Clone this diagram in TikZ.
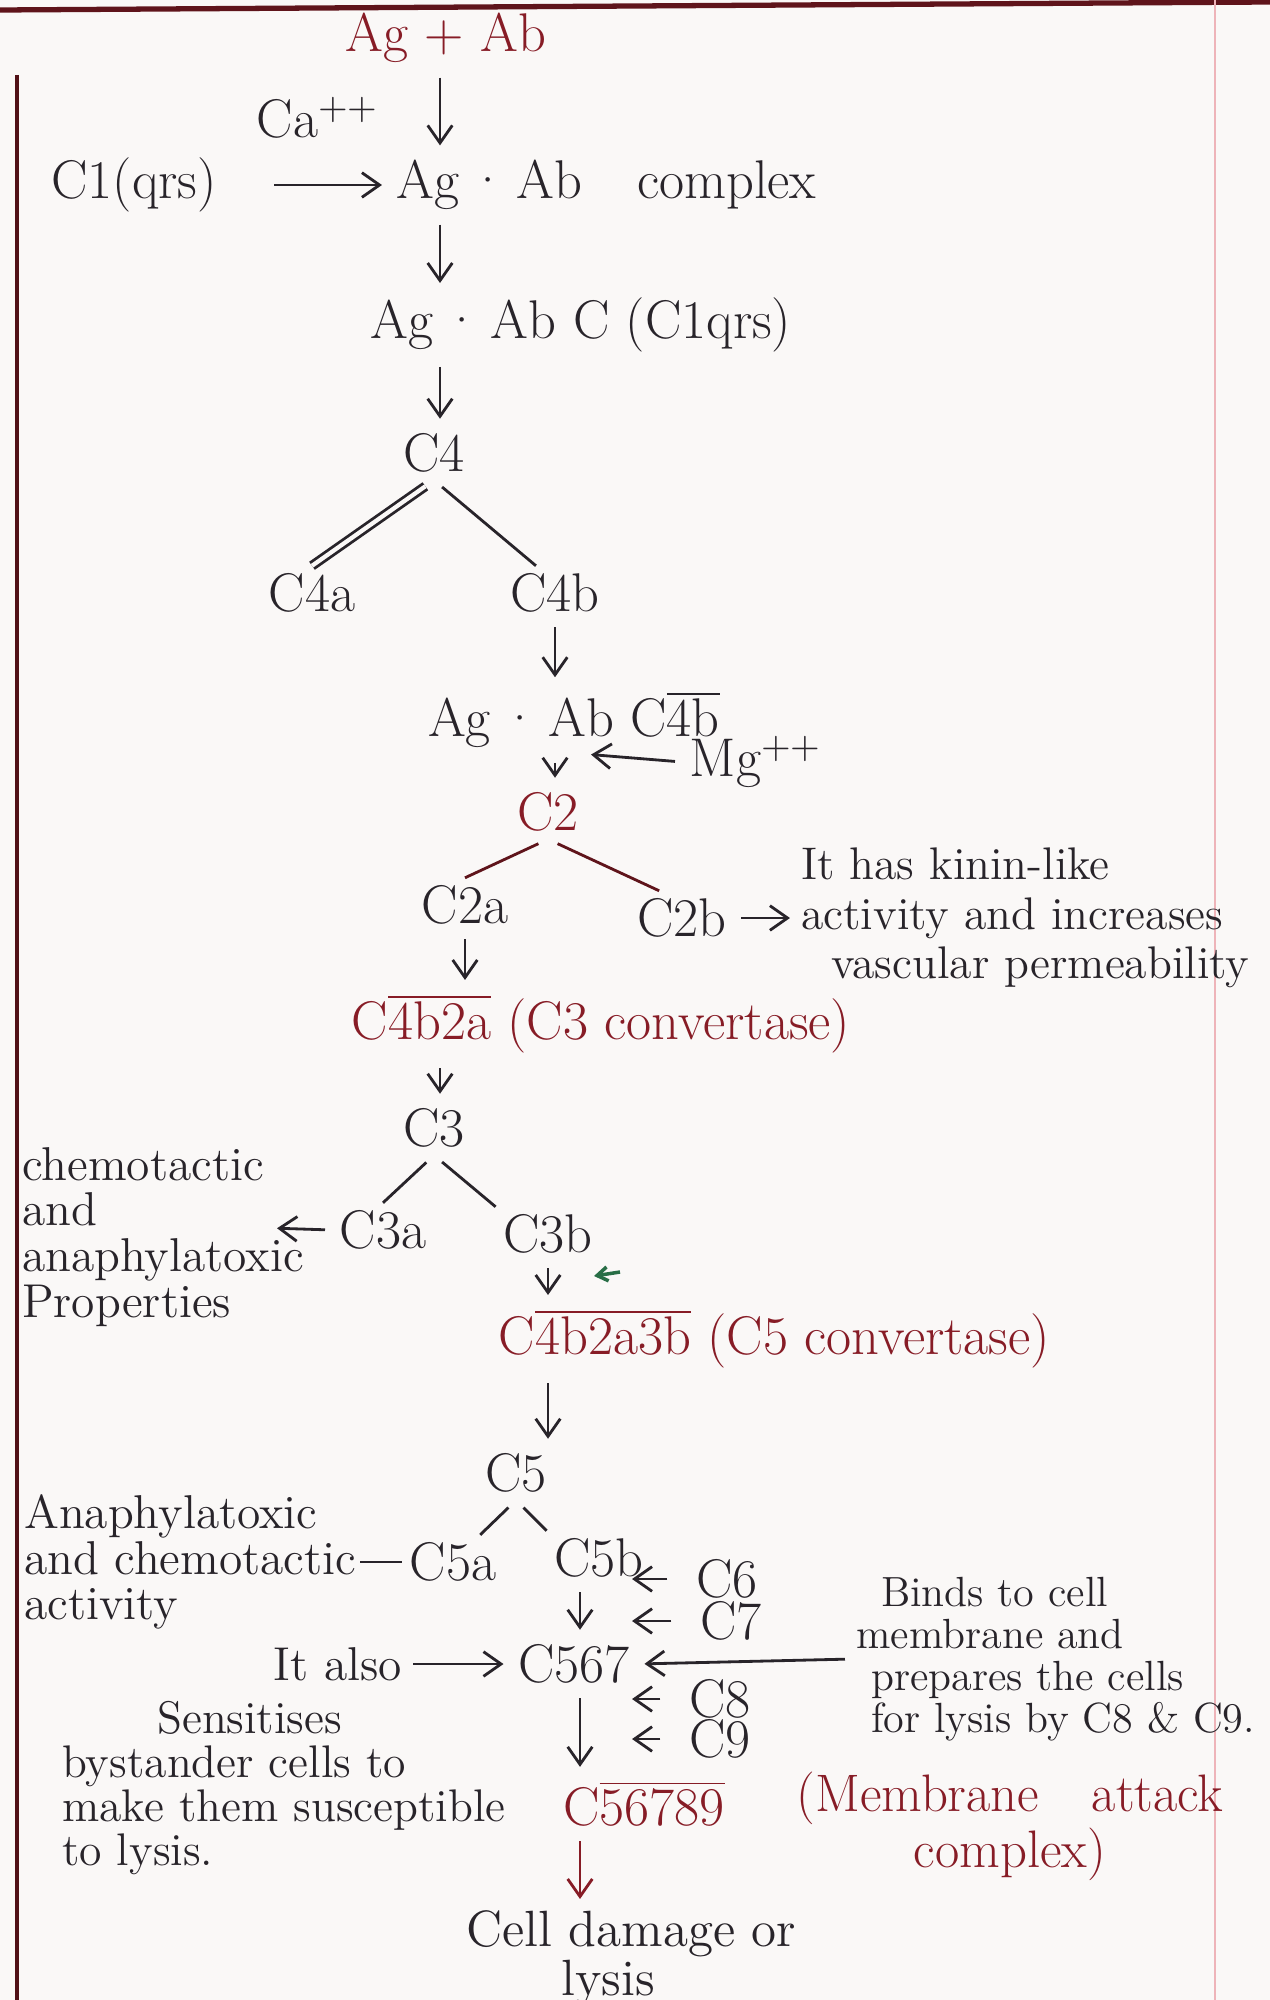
\documentclass[tikz,border=0pt]{standalone}
\usepackage{fontspec}
\usepackage{tikz}
\usetikzlibrary{arrows.meta,positioning}
\usepackage{xcolor}
\definecolor{inkBlack}{RGB}{40,36,42}
\definecolor{inkRed}{RGB}{135,28,38}
\definecolor{inkGreen}{RGB}{40,110,70}
\definecolor{marginRed}{RGB}{238,180,185}
\definecolor{paper}{RGB}{250,248,247}
\newcommand{\ovl}[1]{$\overline{\hbox{#1}}$}

\begin{document}
\begin{tikzpicture}[
  x=0.01cm, y=-0.01cm,
  lbl/.style={font=\fontsize{15.5}{17}\selectfont, text=inkBlack, inner sep=2pt},
  redlbl/.style={lbl, text=inkRed},
  note/.style={font=\fontsize{13.5}{13}\selectfont, text=inkBlack,
               align=left, inner sep=1pt},
  arr/.style={-{Straight Barb[length=5pt,width=7pt]}, line width=0.8pt,
              inkBlack, shorten <=2pt, shorten >=2pt},
  leg/.style={line width=0.8pt, inkBlack, shorten <=3pt}
]
  \fill[paper] (0,0) rectangle (1270,2000);
  \useasboundingbox (0,0) rectangle (1270,2000);
  % page ruling
  \draw[inkRed!70!black, line width=1.5pt] (0,10) -- (1270,2);
  \draw[inkRed!60!black, line width=1.1pt] (17,75) -- (17,2000);
  \draw[marginRed, line width=0.6pt] (1215,0) -- (1215,2000);

  % classical pathway, top part
  \coordinate (stem) at (440,0);
  \node[redlbl] (agab) at (446,38) {Ag + Ab};
  \node[lbl] (ca) at (318,118) {Ca\textsuperscript{++}};
  \node[lbl] (cone) at (134,185) {C1(qrs)};
  \node[lbl, anchor=west] (cplx) at (389,185) {Ag\,·\,Ab\quad complex};
  \node[lbl, anchor=west] (agabc) at (363,325) {Ag\,·\,Ab C (C1qrs)};
  \node[lbl] (cfour) at (434,453) {C4};
  \node[lbl] (cfoura) at (312,593) {C4a};
  \node[lbl] (cfourb) at (555,593) {C4b};
  \node[lbl] (agabcb) at (574,720) {Ag\,·\,Ab C\ovl{4b}};
  \node[lbl, anchor=west] (mg) at (682,762) {Mg\textsuperscript{++}};
  \coordinate (mgin) at (584,754);
  \node[redlbl] (ctwo) at (548,812) {C2};
  \node[lbl] (ctwoa) at (465,905) {C2a};
  \node[lbl] (ctwob) at (682,918) {C2b};
  \node[note, font=\fontsize{13}{14}\selectfont, anchor=west] (kinin)
    at (797,918) {It has kinin-like\\activity and increases\\
    \hspace*{0.3cm}vascular permeability};

  \foreach \a/\b in {agab/cplx,cplx/agabc,agabc/cfour}
    \draw[arr] (\a.south -| stem) -- (\b.north -| stem);
  \draw[arr, shorten <=5mm] (cone.east) -- (cplx.west);
  \draw[leg, double=paper, double distance=1.2pt] (cfour.south) -- (cfoura.north);
  \draw[leg] (cfour.south) -- (cfourb.125);
  \draw[arr] (cfourb.south) -- (cfourb.south |- agabcb.north);
  \draw[arr] (agabcb.south -| cfourb) -- (ctwo.north -| cfourb);
  \draw[arr] (mg.west) -- (mgin);
  \draw[leg, inkRed!70!black] (ctwo.south) -- (ctwoa.north);
  \draw[leg, inkRed!70!black] (ctwo.south) -- (ctwob.130);
  \draw[arr] (ctwob.east) -- (kinin.west);

  % C3 convertase
  \node[redlbl, anchor=west] (cthreeconv) at (344,1024)
    {C\ovl{4b2a} (C3 convertase)};
  \node[lbl] (cthree) at (434,1128) {C3};
  \node[lbl] (cthreea) at (383,1230) {C3a};
  \node[lbl] (cthreeb) at (548,1234) {C3b};
  \node[note, anchor=north west] (chemo) at (18,1143)
    {chemotactic\\and\\anaphylatoxic\\Properties};
  \coordinate (chemoin) at (270,1228);
  \coordinate (gtail) at (620,1272);
  \coordinate (gtip) at (594,1276);

  \draw[arr] (ctwoa.south) -- (ctwoa.south |- cthreeconv.north);
  \draw[arr] (cthreeconv.south -| stem) -- (cthree.north -| stem);
  \draw[leg] (cthree.south) -- (cthreea.north);
  \draw[leg] (cthree.south) -- (cthreeb.north west);
  \draw[arr] (cthreea.west) -- (chemoin);
  \draw[-{Straight Barb[length=3pt,width=4pt]}, inkGreen, line width=1pt]
    (gtail) -- (gtip);

  % C5 convertase and membrane attack complex
  \node[redlbl, anchor=west] (cfiveconv) at (491,1339)
    {C\ovl{4b2a3b} (C5 convertase)};
  \node[lbl] (cfive) at (516,1473) {C5};
  \node[lbl] (cfivea) at (453,1562) {C5a};
  \node[lbl] (cfiveb) at (599,1558) {C5b};
  \node[note, anchor=west] (anaphy) at (20,1562)
    {Anaphylatoxic\\and chemotactic\\activity};
  \node[lbl] (csix) at (727,1579) {C6};
  \node[lbl] (cseven) at (731,1621) {C7};
  \node[lbl] (cfsv) at (574,1664) {C567};
  \node[note] (also) at (338,1664) {It also};
  \node[note, font=\fontsize{12}{12}\selectfont, anchor=west] (binds)
    at (852,1659) {\hspace*{0.25cm}Binds to cell\\membrane and\\
    \hspace*{0.15cm}prepares the cells\\\hspace*{0.15cm}for lysis by C8 \& C9.};
  \node[note, font=\fontsize{13}{12.5}\selectfont, anchor=north west] (sens)
    at (58,1697) {\hspace*{0.95cm}Sensitises\\bystander cells to\\
    make them susceptible\\to lysis.};
  \node[lbl] (ceight) at (720,1699) {C8};
  \node[lbl] (cnine) at (720,1739) {C9};
  \node[redlbl] (mac) at (644,1804) {C\ovl{56789}};
  \node[redlbl, font=\fontsize{15}{14}\selectfont, align=center] (macname)
    at (1010,1826) {(Membrane\quad attack\\complex)};
  \node[note, font=\fontsize{14.5}{12.5}\selectfont, anchor=north west] (lysis)
    at (462,1906) {Cell damage or\\\hspace*{0.95cm}lysis};
  \coordinate (side) at (625,0);
  \coordinate (lowstem) at (580,0);

  \draw[arr] (cthreeb.south) -- (cthreeb.south |- cfiveconv.north);
  \draw[arr] (cfiveconv.south -| cthreeb) -- (cfive.north -| cthreeb);
  \draw[leg] (cfive.south) -- (cfivea.45);
  \draw[leg] (cfive.south) -- (cfiveb.north west);
  \draw[line width=0.8pt, inkBlack] (anaphy.east) -- (cfivea.west);
  \foreach \n in {csix,cseven,ceight,cnine}
    \draw[arr, shorten <=6pt] (\n.west) -- (\n.west -| side);
  \draw[arr] (cfiveb.south -| lowstem) -- (cfsv.north -| lowstem);
  \draw[arr] (also.east) -- (cfsv.west);
  \draw[arr] (binds.west) -- (cfsv.east);
  \draw[arr] (cfsv.south -| lowstem) -- (mac.north -| lowstem);
  \draw[arr, inkRed] (mac.south -| lowstem) -- (lysis.north -| lowstem);
\end{tikzpicture}
\end{document}
